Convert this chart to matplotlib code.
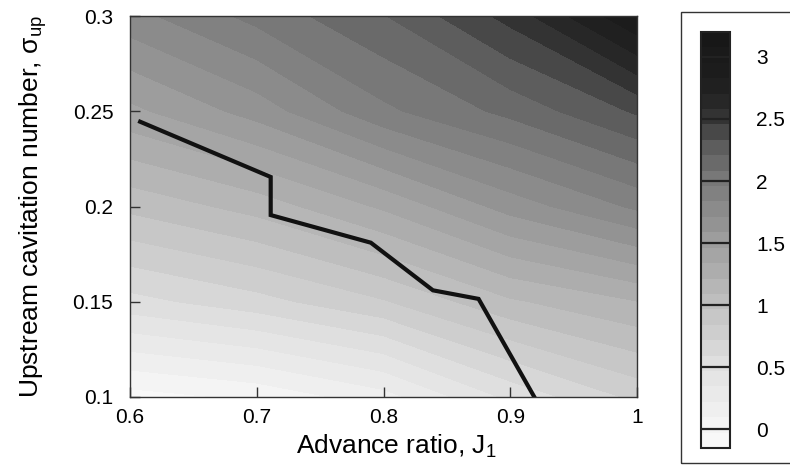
import numpy as np
import matplotlib
matplotlib.use('Agg')
import matplotlib.pyplot as plt
from matplotlib.colors import LinearSegmentedColormap, Normalize

plt.rcParams['font.family'] = ['Liberation Sans', 'DejaVu Sans']
plt.rcParams['mathtext.fontset'] = 'custom'
plt.rcParams['mathtext.rm'] = 'Liberation Sans'
plt.rcParams['mathtext.it'] = 'Liberation Sans:italic'

# map grid: advance ratio (columns) x upstream cavitation number (rows)
J1 = [0.6, 0.7, 0.8, 0.9, 1.0]
sigma_up = [0.10, 0.15, 0.20, 0.25, 0.30]
field = [
    [-0.08, 0.00, 0.17, 0.50, 0.75],
    [0.55, 0.67, 0.83, 1.07, 1.21],
    [1.00, 1.14, 1.36, 1.64, 1.86],
    [1.43, 1.64, 1.93, 2.12, 2.35],
    [1.79, 2.00, 2.20, 2.50, 2.95],
]

# boundary line
line_J = [0.608, 0.711, 0.711, 0.790, 0.839, 0.875, 0.919]
line_sigma = [0.2445, 0.2155, 0.1955, 0.1810, 0.1560, 0.1515, 0.1000]

cbar_ticks = [0, 0.5, 1, 1.5, 2, 2.5, 3]
cbar_labels = ['0', '0.5', '1', '1.5', '2', '2.5', '3']

# grey ramp, light for low values, near black at the top
vmin, vmax = -0.15, 3.2
grey_nodes = [(-0.15, 250), (0.0, 245), (0.5, 225), (1.0, 192),
              (1.5, 158), (2.0, 122), (2.3, 90), (2.55, 45), (2.8, 30),
              (3.2, 22)]
cmap = LinearSegmentedColormap.from_list(
    'greys_scan',
    [((v - vmin) / (vmax - vmin), (g / 255, g / 255, g / 255)) for v, g in grey_nodes])
norm = Normalize(vmin=vmin, vmax=vmax)
levels = np.linspace(vmin, vmax, 28)

W, H = 790, 466
fig = plt.figure(figsize=(W / 100, H / 100), dpi=100, facecolor='white')

ax = fig.add_axes([130 / W, 1 - 397 / H, 507 / W, 381 / H])
cf = ax.contourf(J1, sigma_up, np.array(field), levels=levels, cmap=cmap, norm=norm)
ax.plot(line_J, line_sigma, color='#111111', lw=3.0, solid_joinstyle='miter')

ax.set_xlim(0.6, 1.0)
ax.set_ylim(0.1, 0.3)
ax.set_xticks([0.6, 0.7, 0.8, 0.9, 1.0])
ax.set_xticklabels(['0.6', '0.7', '0.8', '0.9', '1'])
ax.set_yticks([0.1, 0.15, 0.2, 0.25, 0.3])
ax.set_yticklabels(['0.1', '0.15', '0.2', '0.25', '0.3'])
ax.tick_params(axis='both', direction='in', length=7, width=1,
               color='#333333', labelsize=15)
ax.tick_params(axis='x', pad=8)
ax.tick_params(axis='y', pad=12)
for s in ax.spines.values():
    s.set_color('#333333')
    s.set_linewidth(1.0)

ax.set_xlabel('Advance ratio, J$_1$', fontsize=19)
ax.set_ylabel('Upstream cavitation number, σ$_{\\mathrm{up}}$', fontsize=19)
ax.xaxis.set_label_coords(0.525, -0.095)
ax.yaxis.set_label_coords(-0.16, 0.5)

# colour bar inside its own frame
cax = fig.add_axes([701 / W, 1 - 448 / H, 29 / W, 416 / H])
cb = fig.colorbar(cf, cax=cax)
cb.set_ticks(cbar_ticks)
cb.set_ticklabels(cbar_labels)
cb.outline.set_linewidth(1.5)
cb.outline.set_edgecolor('#222222')
cax.tick_params(length=0, pad=19, labelsize=15)
for t in cbar_ticks:
    cax.axhline(t, color='#222222', lw=1.6)

frame = plt.Rectangle((681 / W, 1 - 463 / H), 130 / W, 451 / H,
                      transform=fig.transFigure, fill=False,
                      edgecolor='#333333', lw=1.0, clip_on=False)
fig.patches.append(frame)

fig.savefig('out.png', dpi=100, facecolor='white')
